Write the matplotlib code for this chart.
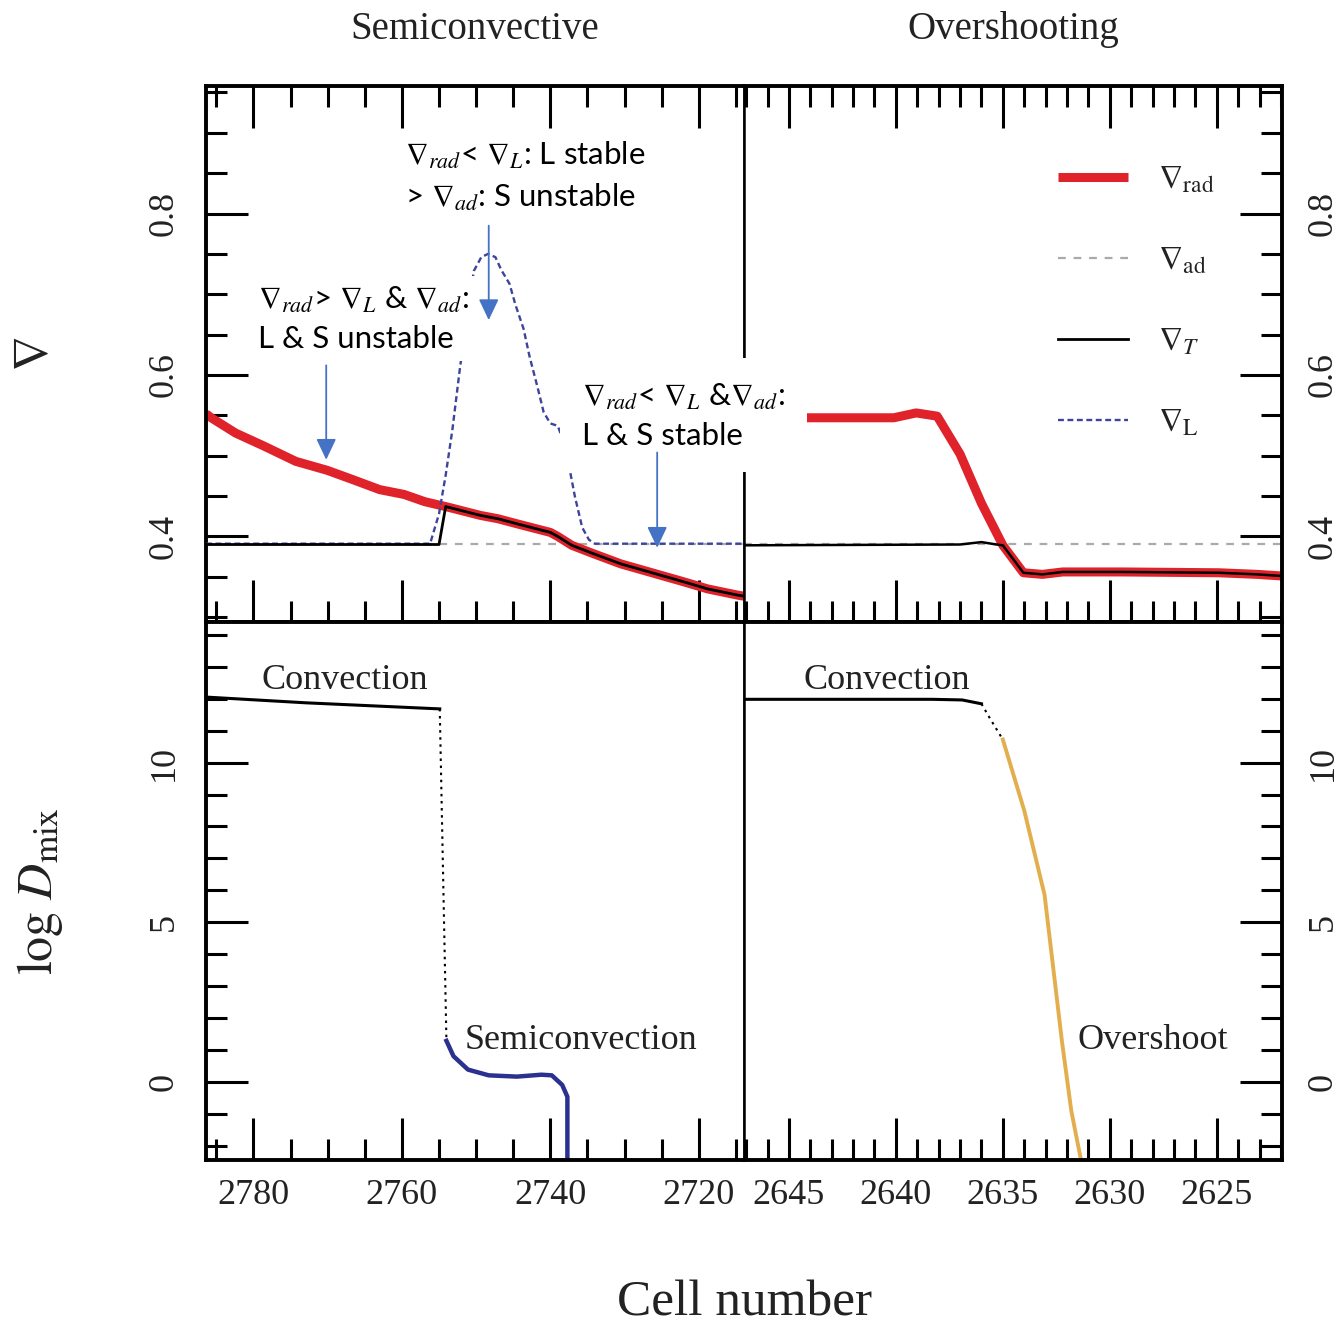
import matplotlib
matplotlib.use('Agg')
import matplotlib.pyplot as plt
from matplotlib.patches import FancyArrowPatch
from matplotlib.ticker import MultipleLocator

plt.rcParams['font.family'] = ['Liberation Serif', 'DejaVu Serif']
plt.rcParams['mathtext.fontset'] = 'stix'

# ---------------- data ----------------
# top-left: semiconvective model, gradients
rad_tl_cell = [2786.4, 2785.7, 2782.4, 2778.6, 2774.3, 2770.1, 2766.8, 2763.0, 2759.7, 2756.9,
               2754.1, 2749.4, 2747.1, 2743.8, 2740.0, 2739.0, 2737.1, 2734.3, 2730.5, 2726.3,
               2722.1, 2718.8, 2714.6, 2713.9]
rad_tl = [0.552, 0.547, 0.528, 0.512, 0.493, 0.482, 0.471, 0.458, 0.452, 0.443,
          0.437, 0.426, 0.422, 0.414, 0.405, 0.400, 0.389, 0.379, 0.366, 0.355,
          0.344, 0.335, 0.327, 0.326]
T_tl_cell = [2786.4, 2755.0, 2754.1, 2749.4, 2747.1, 2743.8, 2740.0, 2739.0, 2737.1, 2734.3,
             2730.5, 2726.3, 2722.1, 2718.8, 2714.6, 2713.9]
T_tl = [0.390, 0.390, 0.437, 0.426, 0.422, 0.414, 0.405, 0.400, 0.389, 0.379,
        0.366, 0.355, 0.344, 0.335, 0.327, 0.326]
L_tl_cell = [2786.4, 2756.2, 2755.0, 2754.1, 2753.2, 2752.2, 2751.2, 2750.3, 2749.3, 2748.4,
             2747.4, 2746.6, 2745.5, 2744.7, 2743.6, 2742.8, 2741.7, 2740.9, 2740.0, 2739.0,
             2738.3, 2737.6, 2736.7, 2735.7, 2734.8, 2734.0, 2713.9]
L_tl = [0.391, 0.391, 0.428, 0.476, 0.532, 0.607, 0.675, 0.729, 0.746, 0.750,
        0.746, 0.730, 0.713, 0.687, 0.657, 0.623, 0.584, 0.554, 0.540, 0.537,
        0.520, 0.493, 0.450, 0.411, 0.396, 0.391, 0.391]
ad_value = 0.391
ad_tl_cell = [2786.4, 2713.9]
ad_tr_cell = [2647.1, 2621.95]

# top-right: overshooting model, gradients
rad_tr_cell = [2647.1, 2643.7, 2640.1, 2639.05, 2638.07, 2637.0, 2636.0, 2635.0, 2634.04,
               2633.15, 2632.2, 2629.4, 2624.9, 2623.1, 2621.95]
rad_tr = [0.547, 0.547, 0.547, 0.553, 0.549, 0.502, 0.441, 0.389, 0.355,
          0.353, 0.356, 0.356, 0.355, 0.353, 0.351]
T_tr_cell = [2647.1, 2637.0, 2636.0, 2635.3, 2635.0, 2634.04, 2633.15, 2632.2, 2629.4,
             2624.9, 2623.1, 2621.95]
T_tr = [0.389, 0.390, 0.393, 0.390, 0.389, 0.355, 0.353, 0.356, 0.356,
        0.355, 0.353, 0.351]

# bottom-left: log D_mix, semiconvective model
conv_bl_cell = [2786.4, 2772.9, 2754.9]
conv_bl = [12.05, 11.87, 11.68]
gap_bl_cell = [2754.9, 2754.0]
gap_bl = [11.68, 1.29]
semi_bl_cell = [2754.0, 2753.05, 2751.1, 2748.3, 2744.5, 2741.2, 2739.8, 2738.4, 2737.7, 2737.7]
semi_bl = [1.29, 0.81, 0.39, 0.21, 0.17, 0.23, 0.21, -0.09, -0.46, -3.0]

# bottom-right: log D_mix, overshooting model
conv_br_cell = [2647.1, 2638.3, 2636.9, 2636.0]
conv_br = [11.98, 11.98, 11.96, 11.84]
gap_br_cell = [2636.0, 2635.6, 2635.0]
gap_br = [11.84, 11.38, 10.72]
over_br_cell = [2635.0, 2634.0, 2633.05, 2632.24, 2631.8, 2631.3]
over_br = [10.72, 8.5, 5.86, 1.29, -0.9, -2.6]

# ticks
xt_left = [2780, 2760, 2740, 2720]
xt_right = [2645, 2640, 2635, 2630, 2625]
yt_top = [0.4, 0.6, 0.8]
yt_bot = [0, 5, 10]

# annotation arrows (cell, start, tip) in top-left data units
arrows = [(2748.3, 0.785, 0.668), (2770.2, 0.612, 0.495), (2725.6, 0.504, 0.386)]

# ---------------- styling ----------------
RED = '#E0222B'
BLUE_L = '#3C449C'
BLUE_S = '#2B3190'
ORANGE = '#E2AE4E'
GREY = '#AAAAAA'
ARROW = '#4472C4'

fig = plt.figure(figsize=(13.4, 13.24), dpi=100)
Lx, Mx, Rx = 206 / 1340, 744 / 1340, 1282 / 1340
Ty, Cy, By = 1 - 86 / 1324, 1 - 622 / 1324, 1 - 1160 / 1324
ax_tl = fig.add_axes([Lx, Cy, Mx - Lx, Ty - Cy])
ax_tr = fig.add_axes([Mx, Cy, Rx - Mx, Ty - Cy])
ax_bl = fig.add_axes([Lx, By, Mx - Lx, Cy - By])
ax_br = fig.add_axes([Mx, By, Rx - Mx, Cy - By])

TOPLIM = (0.294, 0.958)
BOTLIM = (-2.44, 14.4)
XL = (2786.4, 2713.9)
XR = (2647.1, 2621.95)

# top-left
ax_tl.plot(ad_tl_cell, [ad_value] * len(ad_tl_cell), color=GREY, lw=1.6, dashes=(3.5, 3.5), zorder=1,
           label=r'$\nabla_{\rm ad}$')
ax_tl.plot(rad_tl_cell, rad_tl, color=RED, lw=6.5, solid_capstyle='butt', zorder=2,
           label=r'$\nabla_{\rm rad}$')
ax_tl.plot(L_tl_cell, L_tl, color=BLUE_L, lw=1.7, dashes=(2.5, 1.5), zorder=3,
           label=r'$\nabla_{\rm L}$')
ax_tl.plot(T_tl_cell, T_tl, color='black', lw=2.0, zorder=4, label=r'$\nabla_T$')

# top-right
ax_tr.plot(ad_tr_cell, [ad_value] * len(ad_tr_cell), color=GREY, lw=1.6, dashes=(3.5, 3.5), zorder=1)
ax_tr.plot(rad_tr_cell, rad_tr, color=RED, lw=6.5, solid_capstyle='butt', zorder=2)
ax_tr.plot(T_tr_cell, T_tr, color='black', lw=1.8, zorder=4)

# bottom-left
ax_bl.plot(conv_bl_cell, conv_bl, color='black', lw=2.2)
ax_bl.plot(gap_bl_cell, gap_bl, color='black', lw=1.5, linestyle=(0, (1.2, 2.2)))
ax_bl.plot(semi_bl_cell, semi_bl, color=BLUE_S, lw=3.2)

# bottom-right
ax_br.plot(conv_br_cell, conv_br, color='black', lw=2.2)
ax_br.plot(gap_br_cell, gap_br, color='black', lw=1.5, linestyle=(0, (1.2, 2.2)))
ax_br.plot(over_br_cell, over_br, color=ORANGE, lw=2.8)

TICKFS = 26


def style(ax, xlim, ylim, xt, xminor, yt, yminor, side, top_ticks, xlabels):
    ax.set_xlim(*xlim)
    ax.set_ylim(*ylim)
    ax.set_xticks(xt)
    ax.xaxis.set_minor_locator(MultipleLocator(xminor))
    ax.set_yticks(yt)
    ax.yaxis.set_minor_locator(MultipleLocator(yminor))
    ax.set_yticklabels([('%g' % v) for v in yt], rotation=90, va='center')
    if xlabels:
        ax.set_xticklabels([str(v) for v in xt])
    left = side == 'left'
    ax.tick_params(which='both', direction='in', width=2.2, top=top_ticks, bottom=True,
                   left=left, right=not left, labelleft=left, labelright=not left,
                   labelbottom=xlabels, labeltop=False, labelsize=TICKFS, colors='black')
    ax.tick_params(which='major', length=30)
    ax.tick_params(which='minor', length=15)
    ax.tick_params(axis='x', pad=14)
    ax.tick_params(axis='y', pad=18)
    for s in ax.spines.values():
        s.set_linewidth(2.8)
    inner = 'right' if left else 'left'
    ax.spines[inner].set_linewidth(1.8)
    for t in ax.get_xticklabels() + ax.get_yticklabels():
        t.set_color('#222222')


style(ax_tl, XL, TOPLIM, xt_left, 5, yt_top, 0.05, 'left', True, False)
style(ax_tr, XR, TOPLIM, xt_right, 1, yt_top, 0.05, 'right', True, False)
style(ax_bl, XL, BOTLIM, xt_left, 5, yt_bot, 1, 'left', False, True)
style(ax_br, XR, BOTLIM, xt_right, 1, yt_bot, 1, 'right', False, True)

# titles
ax_tl.set_title('Semiconvective', fontsize=28, pad=34, color='#222222')
ax_tr.set_title('Overshooting', fontsize=28, pad=34, color='#222222')

# axis labels
fig.text(0.5553, 1 - 1303 / 1324, 'Cell number', fontsize=37, ha='center', va='center',
         color='#222222')
fig.text(36 / 1340, (Ty + Cy) / 2, r'$\nabla$', fontsize=36, rotation=90, ha='center', va='center',
         color='#222222')
fig.text(40 / 1340, (Cy + By) / 2, r'$\log\,D_{\rm mix}$', fontsize=36, rotation=90, ha='center',
         va='center', color='#222222')

# region labels in the bottom panels
ax_bl.text(0.104, 0.892, 'Convection', transform=ax_bl.transAxes, fontsize=26, va='center',
           color='#222222')
ax_bl.text(0.481, 0.223, 'Semiconvection', transform=ax_bl.transAxes, fontsize=26, va='center',
           color='#222222')
ax_br.text(0.1115, 0.892, 'Convection', transform=ax_br.transAxes, fontsize=26, va='center',
           color='#222222')
ax_br.text(0.619, 0.223, 'Overshoot', transform=ax_br.transAxes, fontsize=26, va='center',
           color='#222222')

# legend
h, lab = ax_tl.get_legend_handles_labels()
order = [lab.index(k) for k in [r'$\nabla_{\rm rad}$', r'$\nabla_{\rm ad}$', r'$\nabla_T$',
                                r'$\nabla_{\rm L}$']]
leg = ax_tr.legend([h[i] for i in order], [lab[i] for i in order], loc='upper left',
                   bbox_to_anchor=(0.584, 0.853), frameon=False, fontsize=24, handlelength=2.1,
                   handletextpad=0.9, labelspacing=1.52, borderpad=0, borderaxespad=0)
for t in leg.get_texts():
    t.set_color('#222222')

# annotation text boxes (figure level so they cover both panels)
ANN_FS = 22.5
LS = 1.42
SANS = ['Lato', 'DejaVu Sans']
box = dict(boxstyle='square,pad=0.25', fc='white', ec='none')
fig.text(405 / 1340, 1 - 140 / 1324,
         '$\\nabla_{rad}$< $\\nabla_L$: L stable\n> $\\nabla_{ad}$: S unstable',
         fontfamily=SANS, fontsize=ANN_FS, ha='left', va='top',
         linespacing=LS, bbox=box, zorder=3)
fig.text(258 / 1340, 1 - 285 / 1324,
         '$\\nabla_{rad}$> $\\nabla_L$ & $\\nabla_{ad}$:\nL & S unstable',
         fontfamily=SANS, fontsize=ANN_FS, ha='left', va='top',
         linespacing=LS, bbox=box, zorder=3)
fig.text(582 / 1340, 1 - 382 / 1324,
         '$\\nabla_{rad}$< $\\nabla_L$ &$\\nabla_{ad}$:\nL & S stable',
         fontfamily=SANS, fontsize=ANN_FS, ha='left', va='top',
         linespacing=LS, bbox=dict(boxstyle='square,pad=0.72', fc='white', ec='none'), zorder=3)

for cx, y0, y1 in arrows:
    arr = FancyArrowPatch((cx, y0), (cx, y1), transform=ax_tl.transData,
                          arrowstyle='-|>,head_length=0.8,head_width=0.38', mutation_scale=16,
                          color=ARROW, lw=1.3, shrinkA=0, shrinkB=0, zorder=5)
    fig.add_artist(arr)

fig.savefig('out.png', dpi=100)
